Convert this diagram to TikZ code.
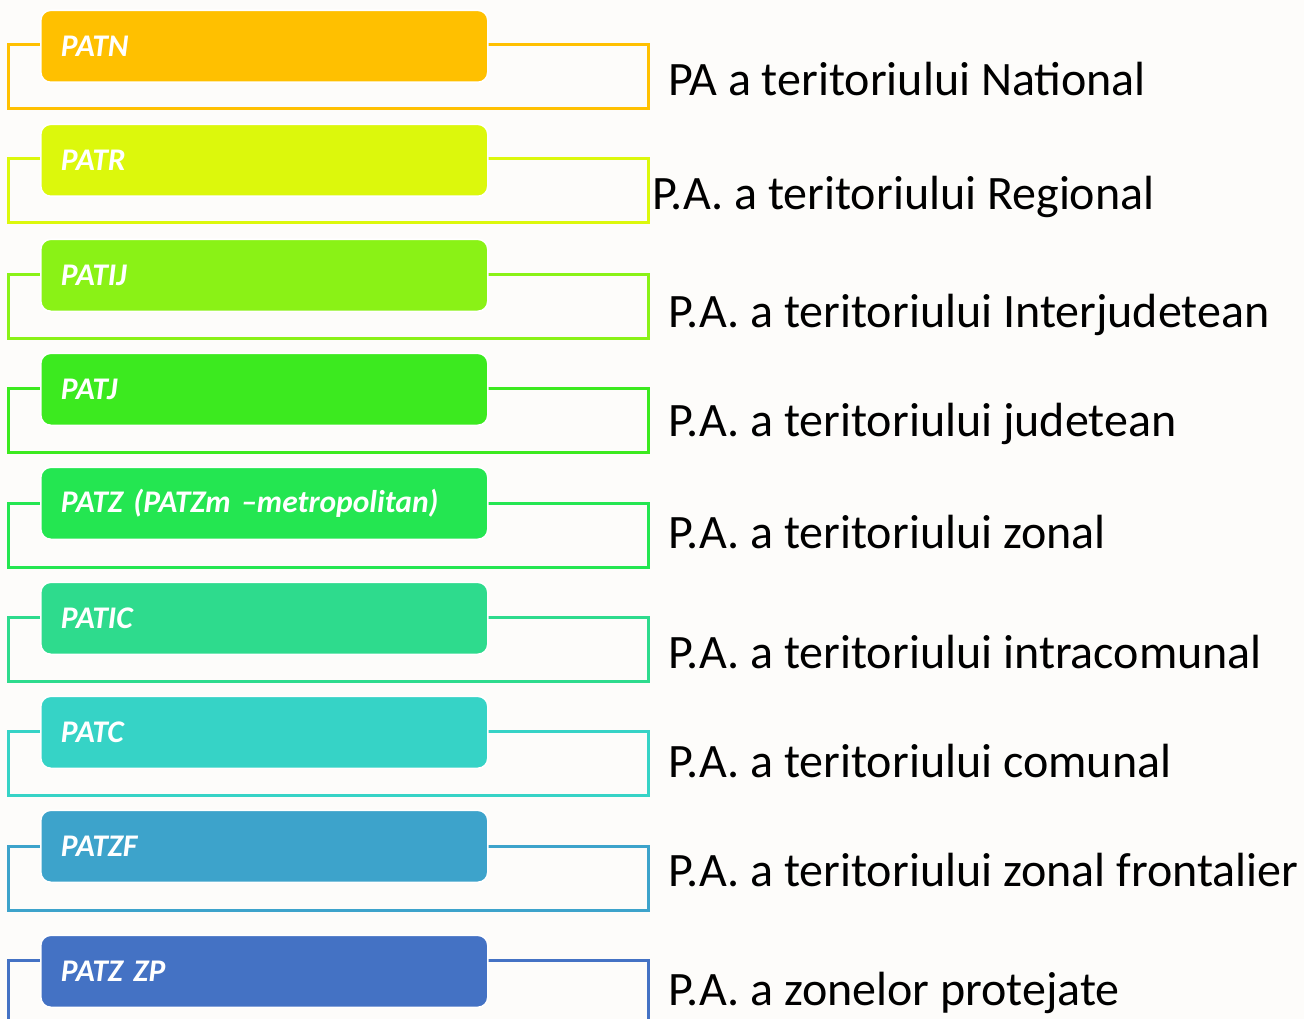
\documentclass[tikz,border=0pt]{standalone}
\usepackage{fontspec}
\setmainfont{Carlito}
\definecolor{cA}{HTML}{FFC000}
\definecolor{cB}{HTML}{DCF80C}
\definecolor{cC}{HTML}{8AF216}
\definecolor{cD}{HTML}{3CEA1F}
\definecolor{cE}{HTML}{24E651}
\definecolor{cF}{HTML}{2EDB8D}
\definecolor{cG}{HTML}{36D3C6}
\definecolor{cH}{HTML}{3DA3CB}
\definecolor{cI}{HTML}{4472C4}
\definecolor{bgc}{HTML}{FDFCFA}
\begin{document}
\begin{tikzpicture}[x=1pt,y=-1pt,
  frame/.style={line width=3pt},
  tag/.style={rounded corners=10pt, draw=white, line width=1.6pt,
    minimum height=72pt, text width=407pt, inner xsep=20pt, inner ysep=0pt,
    anchor=north west, text=white, align=left,
    font=\fontsize{31.5}{31.5}\selectfont\bfseries\itshape},
  desc/.style={anchor=base west, inner sep=0pt, text=black,
    font=\fontsize{48}{48}\selectfont}]
\clip (0,0) rectangle (1304,1019);
\fill[bgc] (0,0) rectangle (1304,1019);
% row 1
\draw[frame,cA] (8,45) rectangle (648,109);
\node[tag,fill=cA] (patn) at (40,9.5) {PATN};
\node[desc] (tn) at (668,96) {PA a teritoriului National};
% row 2
\draw[frame,cB] (8,159) rectangle (648,223);
\node[tag,fill=cB] (patr) at (40,123.5) {PATR};
\node[desc] (tr) at (652,210) {P.A. a teritoriului Regional};
% row 3
\draw[frame,cC] (8,274) rectangle (648,338);
\node[tag,fill=cC] (patij) at (40,238.5) {PATIJ};
\node[desc] (tij) at (668,327) {P.A. a teritoriului Interjudetean};
% row 4
\draw[frame,cD] (8,388) rectangle (648,452);
\node[tag,fill=cD] (patj) at (40,352.5) {PATJ};
\node[desc] (tj) at (668,436) {P.A. a teritoriului judetean};
% row 5
\draw[frame,cE] (8,503) rectangle (648,567);
\node[tag,fill=cE] (patz) at (40,466.5) {PATZ (PATZm –metropolitan)};
\node[desc] (tz) at (668,548) {P.A. a teritoriului zonal};
% row 6
\draw[frame,cF] (8,617) rectangle (648,681);
\node[tag,fill=cF] (patic) at (40,581.5) {PATIC};
\node[desc] (tic) at (668,668) {P.A. a teritoriului intracomunal};
% row 7
\draw[frame,cG] (8,731) rectangle (648,795);
\node[tag,fill=cG] (patc) at (40,695.5) {PATC};
\node[desc] (tc) at (668,777) {P.A. a teritoriului comunal};
% row 8
\draw[frame,cH] (8,846) rectangle (648,910);
\node[tag,fill=cH] (patzf) at (40,809.5) {PATZF};
\node[desc] (tzf) at (668,886) {P.A. a teritoriului zonal frontalier};
% row 9
\draw[frame,cI] (8,960) rectangle (648,1024);
\node[tag,fill=cI] (patzp) at (40,934.5) {PATZ ZP};
\node[desc] (tzp) at (668,1005) {P.A. a zonelor protejate};
\end{tikzpicture}
\end{document}
